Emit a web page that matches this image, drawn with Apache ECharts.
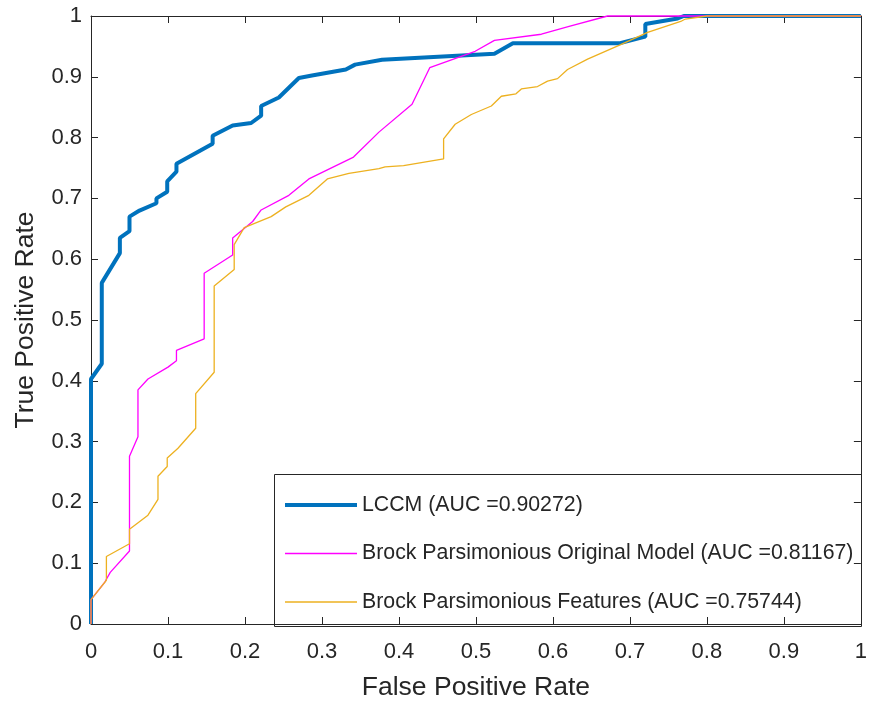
<!DOCTYPE html>
<html><head><meta charset="utf-8">
<script src="https://cdn.jsdelivr.net/npm/echarts@6/dist/echarts.min.js"></script>
<style>html,body{margin:0;padding:0;background:#fff}#c{width:870px;height:706px}</style>
</head><body><div id="c"></div>
<script>
const seriesNames = ['LCCM (AUC =0.90272)', 'Brock Parsimonious Original Model (AUC =0.81167)', 'Brock Parsimonious Features (AUC =0.75744)'];
const lccmX = [0,0,0.014,0.014,0.0375,0.0375,0.05,0.05,0.063,0.085,0.085,0.099,0.099,0.111,0.111,0.158,0.158,0.184,0.208,0.221,0.221,0.244,0.27,0.287,0.331,0.343,0.378,0.524,0.548,0.686,0.72,0.72,0.762,0.77,1];
const lccmY = [0,0.403,0.428,0.561,0.61,0.635,0.646,0.67,0.68,0.692,0.70,0.711,0.728,0.744,0.757,0.79,0.803,0.82,0.824,0.836,0.852,0.866,0.898,0.902,0.912,0.92,0.928,0.938,0.955,0.955,0.966,0.987,0.996,1,1];
const origX = [0,0,0.018,0.025,0.05,0.05,0.061,0.061,0.074,0.1,0.111,0.111,0.147,0.147,0.184,0.184,0.21,0.221,0.257,0.283,0.341,0.374,0.417,0.44,0.499,0.524,0.585,0.621,0.671,1];
const origY = [0,0.04,0.069,0.085,0.12,0.276,0.308,0.385,0.403,0.4225,0.433,0.45,0.469,0.577,0.607,0.635,0.662,0.681,0.705,0.732,0.768,0.809,0.855,0.915,0.942,0.96,0.97,0.983,1,1];
const featX = [0,0,0.02,0.02,0.05,0.05,0.074,0.087,0.087,0.099,0.099,0.113,0.136,0.136,0.16,0.16,0.186,0.186,0.199,0.234,0.253,0.283,0.307,0.335,0.374,0.382,0.406,0.458,0.458,0.473,0.494,0.52,0.533,0.552,0.559,0.58,0.593,0.606,0.619,0.645,0.688,0.723,0.766,0.772,0.8,1];
const featY = [0,0.04,0.072,0.111,0.132,0.156,0.179,0.205,0.243,0.259,0.273,0.289,0.322,0.379,0.414,0.556,0.583,0.624,0.652,0.67,0.686,0.705,0.732,0.741,0.749,0.752,0.754,0.765,0.798,0.822,0.838,0.852,0.868,0.872,0.88,0.884,0.893,0.897,0.912,0.929,0.953,0.973,0.991,0.995,1,1];

const zip = (xs, ys) => xs.map((x, i) => [x, ys[i]]);
const axisColor = '#262626';
const font = 'Liberation Sans, Arial, sans-serif';
const colors = ['#0072BD', '#FF00FF', '#EDB120'];
const widths = [4, 1.3, 1.3];

const chart = echarts.init(document.getElementById('c'), null, {renderer: 'canvas'});
const baseAxis = {
  type: 'value', min: 0, max: 1, interval: 0.1,
  axisLine: {show: true, onZero: false, lineStyle: {color: axisColor, width: 1}},
  axisTick: {show: true, inside: true, length: 7, lineStyle: {color: axisColor}},
  splitLine: {show: false}
};
chart.setOption({
  animation: false,
  backgroundColor: '#fff',
  grid: {left: 91, right: 6, top: 16, bottom: 77, containLabel: false},
  xAxis: [
    Object.assign({}, baseAxis, {position: 'bottom', name: 'False Positive Rate', nameLocation: 'middle', nameGap: 50,
      nameTextStyle: {color: axisColor, fontSize: 26.5, fontFamily: font},
      axisLabel: {color: axisColor, fontSize: 22, fontFamily: font, margin: 17}}),
    Object.assign({}, baseAxis, {position: 'top', axisLabel: {show: false}})
  ],
  yAxis: [
    Object.assign({}, baseAxis, {position: 'left', name: 'True Positive Rate', nameLocation: 'middle', nameGap: 52,
      nameTextStyle: {color: axisColor, fontSize: 26.5, fontFamily: font},
      axisLabel: {color: axisColor, fontSize: 22, fontFamily: font, margin: 9}}),
    Object.assign({}, baseAxis, {position: 'right', axisLabel: {show: false}})
  ],
  legend: {
    orient: 'vertical', left: 280, top: 489,
    itemWidth: 72, itemHeight: 22, itemGap: 26.5,
    symbolKeepAspect: true,
    textStyle: {color: axisColor, fontSize: 21.3, fontFamily: font, lineHeight: 22},
    data: seriesNames.map((n, i) => ({name: n, icon: 'path://M0,0H72V' + widths[i] + 'H0Z', itemStyle: {color: colors[i], borderWidth: 0}}))
  },
  graphic: [{type: 'rect', shape: {x: 274.5, y: 474.5, width: 587, height: 152}, style: {fill: 'none', stroke: axisColor, lineWidth: 1}, z: 100}],
  series: [
    {name: seriesNames[0], type: 'line', data: zip(lccmX, lccmY), symbol: 'none', clip: false,
     lineStyle: {color: colors[0], width: widths[0]}, itemStyle: {color: colors[0]}},
    {name: seriesNames[1], type: 'line', data: zip(origX, origY), symbol: 'none', clip: false,
     lineStyle: {color: colors[1], width: widths[1]}, itemStyle: {color: colors[1]}},
    {name: seriesNames[2], type: 'line', data: zip(featX, featY), symbol: 'none', clip: false,
     lineStyle: {color: colors[2], width: widths[2]}, itemStyle: {color: colors[2]}}
  ]
});
</script></body></html>
